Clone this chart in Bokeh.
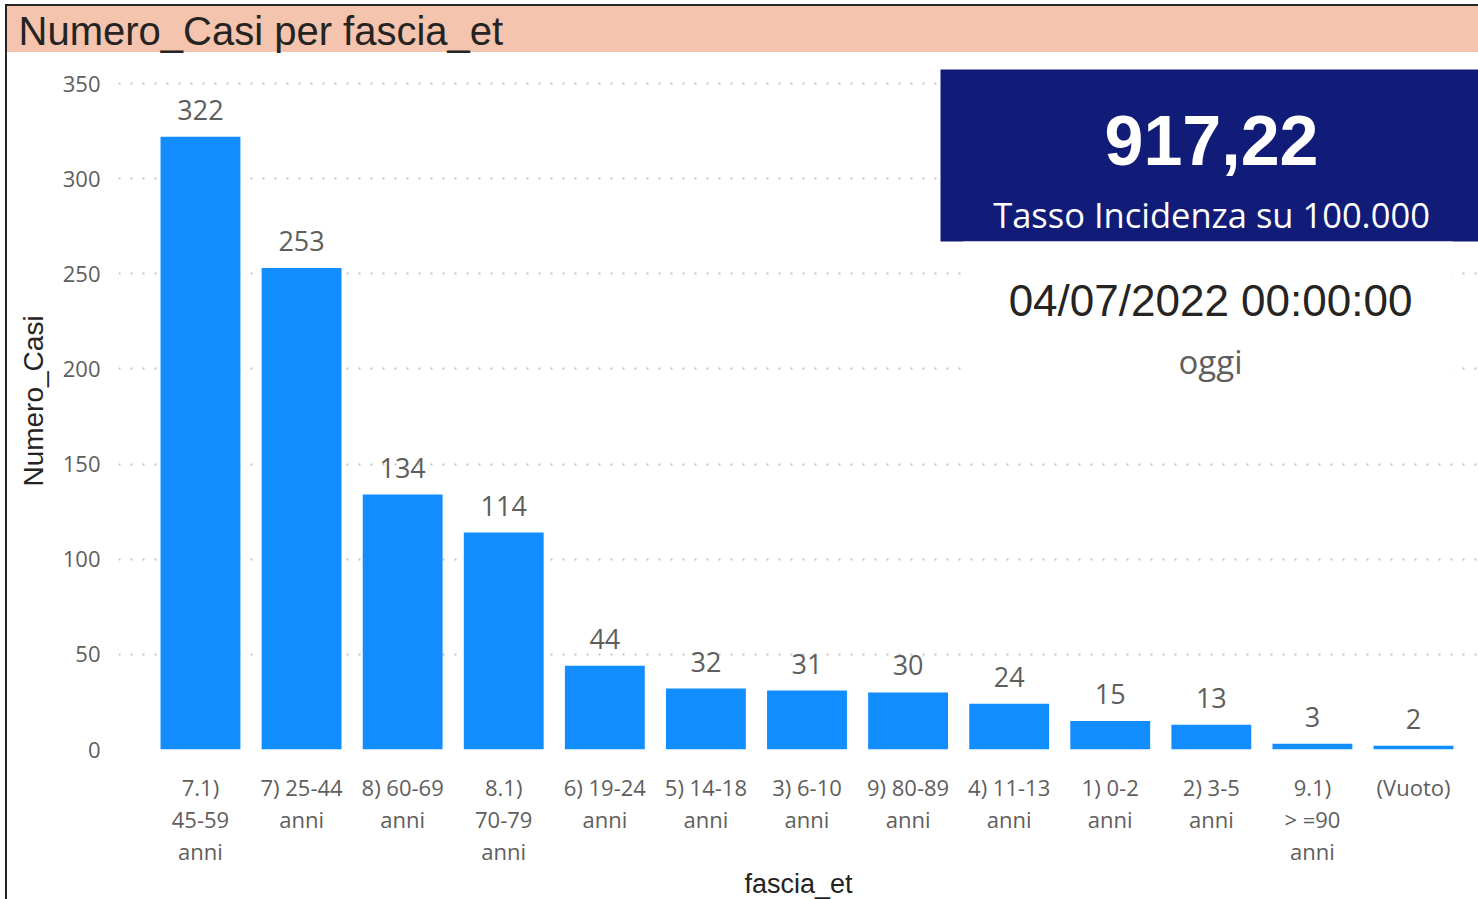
from bokeh.plotting import figure
from bokeh.models import FixedTicker, Label, BoxAnnotation, ColumnDataSource, Range1d
from bokeh.core.properties import value
from bokeh.embed import file_html
from bokeh.resources import INLINE

# ---- data -------------------------------------------------------------
categories = ["7.1) 45-59 anni", "7) 25-44 anni", "8) 60-69 anni", "8.1) 70-79 anni",
              "6) 19-24 anni", "5) 14-18 anni", "3) 6-10 anni", "9) 80-89 anni",
              "4) 11-13 anni", "1) 0-2 anni", "2) 3-5 anni", "9.1) >=90 anni", "(Vuoto)"]
tick_labels = ["7.1)\n45-59\nanni", "7) 25-44\nanni", "8) 60-69\nanni", "8.1)\n70-79\nanni",
               "6) 19-24\nanni", "5) 14-18\nanni", "3) 6-10\nanni", "9) 80-89\nanni",
               "4) 11-13\nanni", "1) 0-2\nanni", "2) 3-5\nanni", "9.1)\n> =90\nanni", "(Vuoto)"]
numero_casi = [322, 253, 134, 114, 44, 32, 31, 30, 24, 15, 13, 3, 2]
y_ticks = [0, 50, 100, 150, 200, 250, 300, 350]

chart_title = "Numero_Casi per fascia_et"
x_title = "fascia_et"
y_title = "Numero_Casi"
kpi_value = "917,22"
kpi_label = "Tasso Incidenza su 100.000"
date_text = "04/07/2022 00:00:00"
date_label = "oggi"

# ---- styles -----------------------------------------------------------
DIN = "Liberation Sans"
SEGOE = "Open Sans"
GRAY = "#605E5C"
DARK = "#252423"
BAR = "#118DFF"

# layout geometry (pixels)
FRAME_LEFT, FRAME_TOP, FRAME_W = 118, 52, 1360
Y350_PX, Y0_PX = 83, 749
px_per_unit = (Y0_PX - Y350_PX) / 350.0
y_end = 350 + (Y350_PX - FRAME_TOP) / px_per_unit

xs = list(range(len(categories)))
src = ColumnDataSource(dict(x=xs, top=numero_casi, lbl=[str(v) for v in numero_casi], cat=categories))

css_bg = ("linear-gradient(#252423,#252423) 5px 4px / 2px 100% no-repeat, "
          "linear-gradient(#252423,#252423) 5px 4px / 100% 2px no-repeat, "
          "linear-gradient(#F4C4AE,#F4C4AE) 7px 6px / 100% 46px no-repeat, #ffffff")

p = figure(frame_width=FRAME_W, frame_height=Y0_PX - FRAME_TOP,
           min_border_left=FRAME_LEFT, min_border_right=0, min_border_top=FRAME_TOP,
           min_border_bottom=899 - Y0_PX,
           x_range=Range1d(-0.811, 12.643), y_range=Range1d(0, y_end),
           output_backend="svg", toolbar_location=None,
           styles={"background": css_bg})
p.outline_line_color = None
p.background_fill_color = None
p.border_fill_color = None

# title (in the above panel, so not clipped)
p.title.text = chart_title
p.title.align = "left"
p.title.offset = 18 - FRAME_LEFT
p.title.vertical_align = "bottom"
p.title.standoff = 0
p.title.text_font = DIN
p.title.text_font_size = "40px"
p.title.text_font_style = "normal"
p.title.text_color = DARK

p.vbar(x="x", top="top", bottom=0, width=0.79, source=src, fill_color=BAR, line_color=None)
p.text(x="x", y="top", text="lbl", source=src, text_font=value(SEGOE), text_font_size="27px",
       text_color=GRAY, text_align="center", text_baseline="alphabetic", y_offset=-27)

# grid
p.xgrid.grid_line_color = None
p.ygrid.ticker = FixedTicker(ticks=y_ticks)
p.ygrid.grid_line_color = "#C8C6C4"
p.ygrid.grid_line_width = 2
p.ygrid.grid_line_dash = "2 10"

# y axis
ya = p.yaxis[0]
ya.ticker = FixedTicker(ticks=y_ticks)
ya.axis_line_color = None
ya.major_tick_line_color = None
ya.minor_tick_line_color = None
ya.major_tick_out = 0
ya.major_tick_in = 0
ya.major_label_standoff = 18
ya.major_label_text_font = SEGOE
ya.major_label_text_font_size = "22px"
ya.major_label_text_color = GRAY
ya.axis_label = y_title
ya.axis_label_text_font = DIN
ya.axis_label_text_font_size = "28px"
ya.axis_label_text_font_style = "normal"
ya.axis_label_text_color = DARK
ya.axis_label_standoff = 11

# x axis
xa = p.xaxis[0]
xa.ticker = FixedTicker(ticks=xs)
xa.major_label_overrides = {i: t for i, t in zip(xs, tick_labels)}
xa.axis_line_color = None
xa.major_tick_line_color = None
xa.minor_tick_line_color = None
xa.major_tick_out = 0
xa.major_tick_in = 0
xa.major_label_standoff = 22
xa.major_label_text_font = SEGOE
xa.major_label_text_font_size = "22px"
xa.major_label_text_color = GRAY
xa.major_label_text_line_height = 1.07
xa.axis_label = x_title
xa.axis_label_text_font = DIN
xa.axis_label_text_font_size = "27px"
xa.axis_label_text_font_style = "normal"
xa.axis_label_text_color = DARK
xa.axis_label_standoff = 0

# ---- card (canvas coordinates, inside the frame) -----------------------
def box(l, r, t, b, fill):
    return BoxAnnotation(left=l, right=r, top=t, bottom=b,
                         left_units="canvas", right_units="canvas",
                         top_units="canvas", bottom_units="canvas",
                         fill_color=fill, fill_alpha=1.0, line_color=None)

p.add_layout(box(940, 1480, 69, 241, "#111C78"))
p.add_layout(box(963, 1452, 241, 400, "white"))

SHIFT = {DIN: 0.365, SEGOE: 0.43}

def lab(txt, x, baseline, font, size, color, style="normal"):
    return Label(text=txt, x=x, y=baseline - SHIFT[font] * size, x_units="canvas", y_units="canvas",
                 text_font=font, text_font_size=f"{size}px", text_color=color,
                 text_align="center", text_baseline="alphabetic", text_font_style=style)

p.add_layout(lab(kpi_value, 1211, 166, DIN, 70, "white", "bold"))
p.add_layout(lab(kpi_label, 1211, 229, SEGOE, 34.5, "white"))
p.add_layout(lab(date_text, 1210, 316, DIN, 44, DARK))
p.add_layout(lab(date_label, 1210, 375, SEGOE, 33, GRAY))

html = file_html(p, INLINE, title=chart_title)
html = html.replace("<head>", "<head><style>html,body{margin:0;padding:0;overflow:hidden}</style>", 1)
open("out.html", "w").write(html)
